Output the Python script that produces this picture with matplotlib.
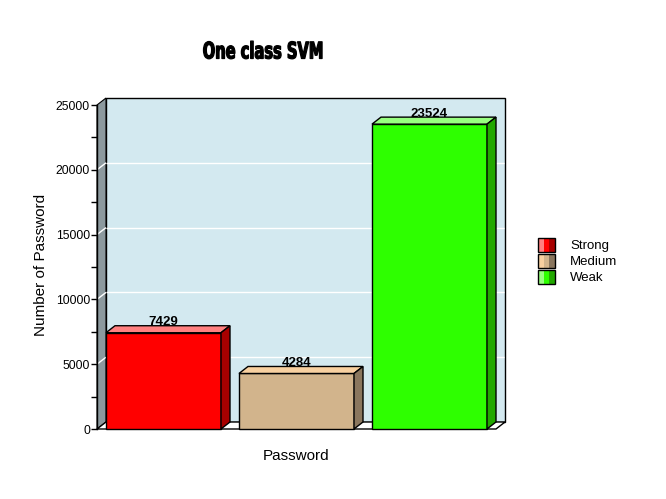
import matplotlib
matplotlib.use("Agg")
import matplotlib.pyplot as plt
from matplotlib.patches import Polygon, Rectangle
from matplotlib.patheffects import AbstractPathEffect
from matplotlib.transforms import Affine2D

categories = ["Strong", "Medium", "Weak"]
counts = [7429, 4284, 23524]
front_colors = ["#ff0000", "#d2b48c", "#2eff00"]
top_colors = ["#ff8080", "#f8d0a0", "#98ff80"]
side_colors = ["#a80000", "#8a765e", "#22a800"]
y_ticks = [0, 5000, 10000, 15000, 20000, 25000]
y_minor = [2500, 7500, 12500, 17500, 22500]

W, H = 666, 499
fig = plt.figure(figsize=(W / 100, H / 100), dpi=100)
fig.patch.set_facecolor("white")


class Squeeze(AbstractPathEffect):
    """Compress glyph outlines horizontally around a display-x centre and embolden."""
    def __init__(self, sx, cx, stroke=0.9):
        super().__init__()
        self.sx = sx
        self.cx = cx
        self.stroke = stroke

    def draw_path(self, renderer, gc, tpath, affine, rgbFace=None):
        t = affine + Affine2D().translate(-self.cx, 0).scale(self.sx, 1).translate(self.cx, 0)
        gc0 = renderer.new_gc()
        gc0.copy_properties(gc)
        gc0.set_linewidth(self.stroke)
        gc0.set_foreground("black")
        gc0.set_joinstyle("round")
        renderer.draw_path(gc0, tpath, t, rgbFace)
        gc0.restore()


# axes front frame in pixels
x0, x1 = 97, 496
ytop, ybot = 105, 429
ax = fig.add_axes([x0 / W, 1 - ybot / H, (x1 - x0) / W, (ybot - ytop) / H])
ax.set_xlim(0.5, 3.5)
ax.set_ylim(0, 25000)
ax.patch.set_alpha(0)

px_x = 3.0 / (x1 - x0)
px_y = 25000.0 / (ybot - ytop)
dx = 9 * px_x
dy = 7 * px_y

for s in ["top", "right", "bottom"]:
    ax.spines[s].set_visible(False)
ax.spines["left"].set_linewidth(1)
ax.spines["left"].set_zorder(10)
ax.set_xticks([])
ax.set_yticks(y_ticks)
ax.set_yticks(y_minor, minor=True)
ax.tick_params(axis="y", which="both", length=4, width=1, pad=1,
               labelsize=8.7, colors="black")
for lab in ax.get_yticklabels():
    lab.set_fontfamily("Liberation Sans")

xl, xr = 0.5, 3.5
ymax = 25000
# back panel
ax.add_patch(Polygon([(xl + dx, dy), (xr + dx, dy), (xr + dx, ymax + dy), (xl + dx, ymax + dy)],
                     closed=True, facecolor="#d3e9f0", edgecolor="black", lw=1, clip_on=False, zorder=1))
# left wall
ax.add_patch(Polygon([(xl, 0), (xl + dx, dy), (xl + dx, ymax + dy), (xl, ymax)],
                     closed=True, facecolor="#8c999e", edgecolor="black", lw=0.8, clip_on=False, zorder=1.5))
# gridlines
for t in y_ticks[1:-1]:
    ax.plot([xl + dx, xr + dx - 0.6 * px_x], [t + dy, t + dy], color="white", lw=1,
            solid_capstyle="butt", clip_on=False, zorder=1.6)
    ax.plot([xl, xl + dx], [t, t + dy], color="white", lw=1, solid_capstyle="butt",
            clip_on=False, zorder=1.6)
# floor
ax.add_patch(Polygon([(xl, 0), (xr, 0), (xr + dx, dy), (xl + dx, dy)],
                     closed=True, facecolor="white", edgecolor="black", lw=1, clip_on=False, zorder=2))

bw = 115 * px_x
for i, (v, fc, tc, sc) in enumerate(zip(counts, front_colors, top_colors, side_colors)):
    c = i + 1
    l, r = c - bw / 2, c + bw / 2
    ax.add_patch(Polygon([(l, 0), (r, 0), (r, v), (l, v)], closed=True,
                         facecolor=fc, edgecolor="black", lw=1, clip_on=False, zorder=3))
    ax.add_patch(Polygon([(l, v), (r, v), (r + dx, v + dy), (l + dx, v + dy)], closed=True,
                         facecolor=tc, edgecolor="black", lw=1, clip_on=False, zorder=3))
    ax.add_patch(Polygon([(r, 0), (r + dx, dy), (r + dx, v + dy), (r, v)], closed=True,
                         facecolor=sc, edgecolor="black", lw=1, clip_on=False, zorder=3))
    ax.text(c, v + dy + 0.5 * px_y, str(v), ha="center", va="baseline", fontsize=9.5,
            fontweight="bold", family="Liberation Sans", zorder=5)

# title and labels
tcx = 263
fig.text(tcx / W, 1 - 52 / H, "One class SVM", ha="center", va="center", fontsize=16.5,
         fontweight="heavy", family="DejaVu Sans",
         path_effects=[Squeeze(0.64, tcx)])
fig.text(41 / W, 1 - 265 / H, "Number of Password", rotation=90, ha="center", va="center",
         fontsize=11, family="Liberation Sans")
fig.text(296 / W, 1 - 456 / H, "Password", ha="center", va="center",
         fontsize=11, family="Liberation Sans")

# legend
lx0, lw_ = 538, 17
ly = [238, 254, 270]
for i, cat in enumerate(categories):
    y0 = ly[i]
    cols = [top_colors[i], front_colors[i], side_colors[i]]
    bounds = [(0, 5.5), (5.5, 11), (11, 17)]
    for (a, b), col in zip(bounds, cols):
        fig.patches.append(Rectangle(((lx0 + a) / W, 1 - (y0 + 14) / H), (b - a) / W, 14 / H,
                                     transform=fig.transFigure, facecolor=col, edgecolor="none"))
    fig.patches.append(Rectangle((lx0 / W, 1 - (y0 + 14) / H), lw_ / W, 14 / H,
                                 transform=fig.transFigure, facecolor="none", edgecolor="black", lw=1))
    fig.text(570 / W, 1 - (y0 + 8) / H, cat, ha="left", va="center", fontsize=9.5,
             family="Liberation Sans")

fig.savefig("out.png", dpi=100)
